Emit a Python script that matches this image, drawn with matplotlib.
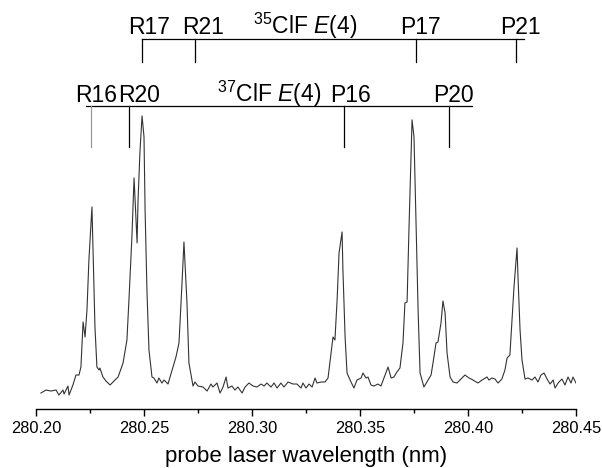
import numpy as np
import matplotlib.pyplot as plt

plt.rcParams['font.family'] = ['Liberation Sans', 'DejaVu Sans']
plt.rcParams['mathtext.fontset'] = 'custom'
plt.rcParams['mathtext.rm'] = 'Liberation Sans'
plt.rcParams['mathtext.it'] = 'Liberation Sans:italic'

# LIF signal vs probe wavelength (nm, arbitrary intensity)
wavelength = np.array([
    280.2023, 280.2046, 280.2069, 280.2093, 280.2106, 280.2125, 280.2130, 280.2148,
    280.2153, 280.2171, 280.2185, 280.2199, 280.2208, 280.2218, 280.2227, 280.2236,
    280.2245, 280.2259, 280.2264, 280.2273, 280.2282, 280.2292, 280.2296, 280.2310,
    280.2324, 280.2343, 280.2361, 280.2380, 280.2403, 280.2421, 280.2431, 280.2444,
    280.2454, 280.2458, 280.2468, 280.2472, 280.2481, 280.2491, 280.2500, 280.2505,
    280.2514, 280.2523, 280.2537, 280.2546, 280.2560, 280.2569, 280.2583, 280.2593,
    280.2611, 280.2630, 280.2648, 280.2662, 280.2676, 280.2685, 280.2699, 280.2708,
    280.2727, 280.2736, 280.2750, 280.2773, 280.2792, 280.2810, 280.2819, 280.2838,
    280.2852, 280.2866, 280.2880, 280.2889, 280.2907, 280.2921, 280.2935, 280.2954,
    280.2968, 280.2986, 280.3005, 280.3023, 280.3042, 280.3056, 280.3069, 280.3088,
    280.3102, 280.3116, 280.3134, 280.3148, 280.3167, 280.3190, 280.3208, 280.3227,
    280.3236, 280.3250, 280.3264, 280.3278, 280.3292, 280.3301, 280.3319, 280.3338,
    280.3352, 280.3366, 280.3375, 280.3384, 280.3394, 280.3403, 280.3417, 280.3421,
    280.3431, 280.3440, 280.3454, 280.3472, 280.3486, 280.3505, 280.3514, 280.3528,
    280.3537, 280.3551, 280.3565, 280.3583, 280.3597, 280.3611, 280.3630, 280.3644,
    280.3657, 280.3671, 280.3685, 280.3699, 280.3708, 280.3718, 280.3727, 280.3741,
    280.3750, 280.3759, 280.3769, 280.3778, 280.3796, 280.3815, 280.3829, 280.3838,
    280.3852, 280.3861, 280.3875, 280.3884, 280.3894, 280.3903, 280.3917, 280.3931,
    280.3949, 280.3963, 280.3986, 280.4005, 280.4023, 280.4046, 280.4065, 280.4088,
    280.4097, 280.4111, 280.4125, 280.4139, 280.4157, 280.4171, 280.4181, 280.4194,
    280.4204, 280.4213, 280.4227, 280.4232, 280.4241, 280.4250, 280.4264, 280.4278,
    280.4296, 280.4310, 280.4324, 280.4338, 280.4352, 280.4366, 280.4380, 280.4394,
    280.4403, 280.4417, 280.4435, 280.4449, 280.4463, 280.4477, 280.4486, 280.4500,
])
signal = np.array([
    7, 10, 9, 10, 5, 10, 6, 14,
    5, 15, 25, 25, 33, 78, 63, 90,
    140, 193, 150, 73, 33, 30, 32, 23,
    19, 15, 19, 23, 37, 60, 103, 163,
    222, 203, 157, 197, 247, 284, 263, 190,
    107, 50, 23, 22, 17, 22, 17, 20,
    16, 30, 43, 57, 117, 158, 97, 37,
    14, 18, 14, 13, 9, 16, 13, 17,
    7, 13, 23, 12, 14, 10, 13, 7,
    13, 17, 14, 13, 16, 14, 17, 13,
    17, 12, 17, 13, 18, 16, 16, 12,
    17, 12, 16, 13, 22, 17, 18, 18,
    22, 47, 63, 60, 100, 147, 168, 130,
    63, 27, 20, 12, 20, 22, 27, 22,
    23, 15, 14, 16, 14, 22, 33, 22,
    23, 28, 32, 57, 97, 98, 173, 280,
    263, 183, 90, 27, 13, 20, 25, 37,
    57, 58, 77, 99, 87, 47, 23, 18,
    17, 20, 25, 22, 20, 17, 20, 23,
    20, 22, 21, 17, 21, 30, 42, 45,
    80, 113, 152, 120, 70, 40, 21, 22,
    20, 23, 18, 25, 27, 21, 16, 20,
    12, 17, 21, 15, 23, 17, 23, 17,
])

# rotational assignments: 35ClF (upper comb) and 37ClF (lower comb)
lines_35 = ['R17', 'R21', 'P17', 'P21']
pos_35 = [280.2491, 280.2736, 280.3759, 280.4222]
label_x_35 = [280.2523, 280.2773, 280.3782, 280.4241]
lines_37 = ['R16', 'R20', 'P16', 'P20']
pos_37 = [280.2255, 280.2431, 280.3426, 280.3914]
label_x_37 = [280.2278, 280.2477, 280.3454, 280.3931]

fig = plt.figure(figsize=(6.02, 4.68), dpi=100)
ax = fig.add_axes([0.0598, 0.126, 0.8970, 0.853])
ax.plot(wavelength, signal, color='#333333', lw=0.8)

# upper comb
ax.plot([pos_35[0], 280.4259], [361, 361], color='k', lw=0.9)
for x in pos_35:
    ax.plot([x, x], [361, 338], color='k', lw=0.9)
for name, x in zip(lines_35, label_x_35):
    ax.text(x, 366, name, ha='center', va='baseline', fontsize=16.5)
ax.text(280.3245, 366, r'$^{35}$ClF $E$(4)', ha='center', va='baseline', fontsize=16.5)

# lower comb
ax.plot([280.2231, 280.4019], [294, 294], color='k', lw=0.9)
for i, x in enumerate(pos_37):
    ax.plot([x, x], [294, 253], color='#999999' if i == 0 else 'k', lw=0.9)
for name, x in zip(lines_37, label_x_37):
    ax.text(x, 298, name, ha='center', va='baseline', fontsize=16.5)
ax.text(280.3079, 298, r'$^{37}$ClF $E$(4)', ha='center', va='baseline', fontsize=16.5)

ax.set_xlim(280.20, 280.45)
ax.set_ylim(-9, 390)
ax.set_xticks(np.arange(280.20, 280.4501, 0.05))
ax.set_xticks(np.arange(280.225, 280.45, 0.05), minor=True)
ax.xaxis.set_major_formatter(plt.FormatStrFormatter('%.2f'))
ax.tick_params(axis='x', which='major', length=5, width=1, pad=3.5, labelsize=11.8)
ax.tick_params(axis='x', which='minor', length=3, width=1)
ax.set_yticks([])
for s in ['left', 'right', 'top']:
    ax.spines[s].set_visible(False)
ax.spines['bottom'].set_linewidth(1)
ax.set_xlabel('probe laser wavelength (nm)', fontsize=16, labelpad=7)

fig.savefig('out.png', dpi=100)
